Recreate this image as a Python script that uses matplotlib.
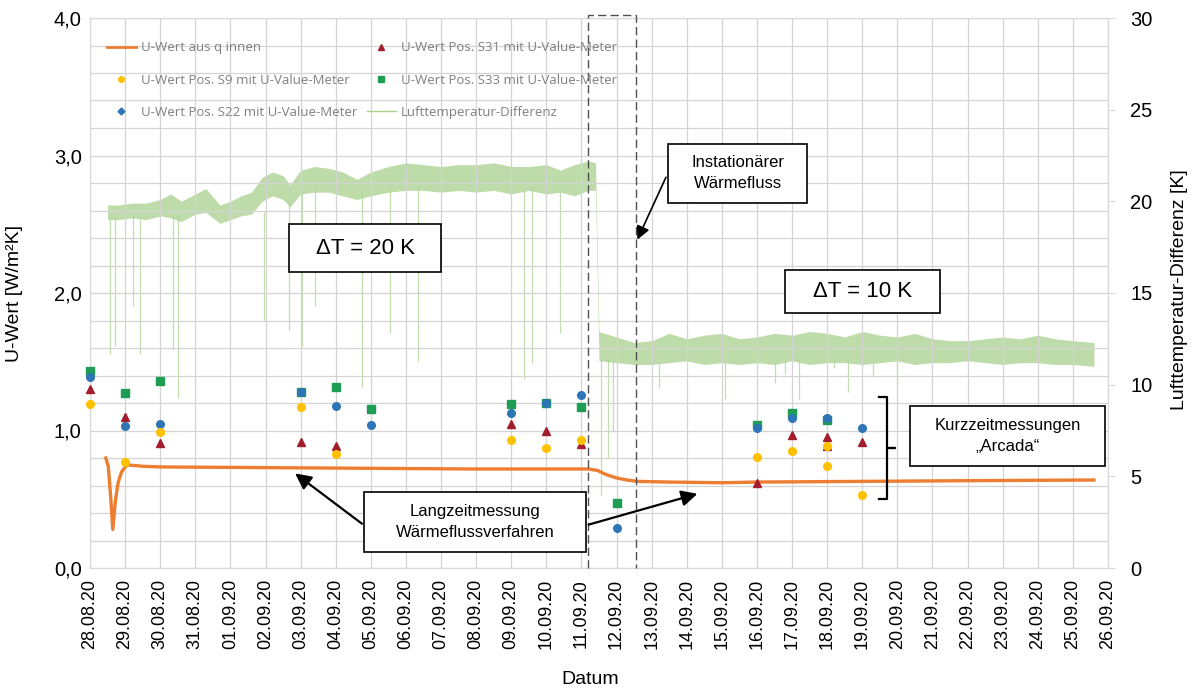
import matplotlib.pyplot as plt
from matplotlib.lines import Line2D
from matplotlib.patches import Rectangle
import numpy as np

plt.rcParams['font.family'] = ['Liberation Sans', 'DejaVu Sans']

# x axis: days since 28.08.20
dateLabels = ['28.08.20', '29.08.20', '30.08.20', '31.08.20', '01.09.20', '02.09.20',
              '03.09.20', '04.09.20', '05.09.20', '06.09.20', '07.09.20', '08.09.20',
              '09.09.20', '10.09.20', '11.09.20', '12.09.20', '13.09.20', '14.09.20',
              '15.09.20', '16.09.20', '17.09.20', '18.09.20', '19.09.20', '20.09.20',
              '21.09.20', '22.09.20', '23.09.20', '24.09.20', '25.09.20', '26.09.20']

# U-Wert aus q innen (long-term heat flux measurement)
qDays = [0.45, 0.52, 0.58, 0.65, 0.72, 0.8, 0.9, 1.05, 1.5, 2.0, 5.0, 8.0, 11.0, 14.2,
         14.45, 14.7, 15.0, 15.3, 15.6, 16.5, 18.0, 19.0, 22.0, 25.0, 28.6]
qValues = [0.80, 0.74, 0.55, 0.28, 0.48, 0.62, 0.70, 0.75, 0.74, 0.735, 0.73, 0.725, 0.72, 0.72,
           0.71, 0.68, 0.655, 0.64, 0.63, 0.625, 0.62, 0.625, 0.63, 0.635, 0.64]

# short-term measurements with U-Value-Meter
s9Days = [0, 1, 2, 6, 7, 12, 13, 14, 19, 20, 21, 21, 22]
s9Values = [1.19, 0.77, 0.99, 1.17, 0.83, 0.93, 0.87, 0.93, 0.81, 0.85, 0.89, 0.74, 0.53]
s22Days = [0, 1, 2, 6, 7, 8, 12, 13, 14, 15, 19, 20, 21, 22]
s22Values = [1.39, 1.03, 1.05, 1.28, 1.18, 1.04, 1.13, 1.20, 1.26, 0.29, 1.02, 1.09, 1.09, 1.02]
s31Days = [0, 1, 2, 6, 7, 12, 13, 14, 19, 20, 21, 21, 22]
s31Values = [1.30, 1.10, 0.91, 0.92, 0.89, 1.05, 1.00, 0.90, 0.62, 0.97, 0.95, 0.89, 0.92]
s33Days = [0, 1, 2, 6, 7, 8, 12, 13, 14, 15, 19, 20, 21]
s33Values = [1.43, 1.27, 1.36, 1.28, 1.32, 1.16, 1.19, 1.20, 1.17, 0.47, 1.04, 1.13, 1.08]

# Lufttemperatur-Differenz, noisy band (low / high edge)
tDays = [0.5, 0.8, 1.2, 1.6, 2.0, 2.3, 2.6, 3.0, 3.3, 3.7, 4.0, 4.3, 4.6, 4.9, 5.2, 5.5,
         5.7, 6.0, 6.4, 6.8, 7.2, 7.6, 8.0, 8.5, 9.0, 9.5, 10.0, 10.5, 11.0, 11.5, 12.0,
         12.5, 13.0, 13.4, 13.8, 14.2, 14.4,
         14.5, 15.0, 15.5, 16.0, 16.5, 17.0, 17.5, 18.0, 18.5, 19.0, 19.5, 20.0, 20.5,
         21.0, 21.5, 22.0, 22.5, 23.0, 23.5, 24.0, 24.5, 25.0, 25.5, 26.0, 26.5, 27.0,
         27.5, 28.0, 28.6]
tLow = [19.0, 19.0, 19.1, 19.0, 19.2, 19.1, 18.9, 19.3, 19.4, 18.8, 19.0, 19.2, 19.3, 20.0,
        20.3, 20.1, 19.7, 20.4, 20.5, 20.5, 20.3, 20.1, 20.3, 20.5, 20.6, 20.6, 20.5, 20.6,
        20.5, 20.6, 20.4, 20.6, 20.4, 20.5, 20.3, 20.6, 20.6,
        11.3, 11.2, 11.1, 11.1, 11.2, 11.3, 11.1, 11.2, 11.1, 11.2, 11.1, 11.3, 11.1, 11.2,
        11.2, 11.1, 11.2, 11.3, 11.1, 11.2, 11.2, 11.3, 11.2, 11.1, 11.2, 11.2, 11.1, 11.1,
        11.0]
tHigh = [19.8, 19.8, 19.9, 19.9, 20.1, 20.4, 20.0, 20.4, 20.7, 19.8, 20.0, 20.3, 20.5, 21.3,
         21.6, 21.4, 20.9, 21.7, 21.9, 21.8, 21.6, 21.2, 21.6, 21.9, 22.1, 22.0, 21.9, 22.0,
         22.0, 22.1, 21.9, 21.9, 22.0, 21.7, 22.0, 22.2, 22.1,
         12.9, 12.6, 12.3, 12.4, 12.8, 12.5, 12.7, 12.8, 12.5, 12.6, 12.8, 12.7, 12.9, 12.8,
         12.6, 12.9, 12.7, 12.6, 12.8, 12.5, 12.4, 12.4, 12.5, 12.6, 12.5, 12.7, 12.5, 12.4,
         12.3]
# short drops of the temperature difference
dipDays = [0.57, 0.71, 1.23, 1.42, 2.36, 2.5, 4.96, 5.67, 6.04, 6.42, 7.74, 8.55, 9.35,
           12.37, 12.6, 13.4, 14.55, 14.75, 14.9, 16.2, 18.1, 19.5, 19.8, 20.2, 21.2, 21.6,
           22.3, 23.0]
dipBottom = [11.7, 12.1, 14.3, 11.7, 11.9, 9.3, 13.5, 13.0, 12.1, 14.3, 9.9, 12.8, 11.3,
             10.3, 11.2, 12.8, 4.0, 6.0, 7.4, 9.8, 9.2, 10.1, 10.6, 9.2, 10.9, 9.6, 10.4, 9.9]
dipTop = [19.1, 19.1, 19.2, 19.1, 19.3, 19.3, 19.4, 19.9, 20.6, 20.8, 20.5, 20.8, 20.9,
          20.7, 20.8, 20.7, 11.4, 11.4, 11.3, 11.2, 11.3, 11.2, 11.3, 11.4, 11.3, 11.3,
          11.2, 11.4]

orange = '#ED7D31'
yellow = '#FFC000'
blue = '#2E75B6'
red = '#A31D2E'
green = '#1F9D55'
tempGreen = '#A9D18E'

fig = plt.figure(figsize=(11.93, 6.97), dpi=100)
ax = fig.add_axes([90 / 1193, 129 / 697, 1018 / 1193, 550 / 697])
ax2 = ax.twinx()
ax.set_zorder(ax2.get_zorder() + 1)
ax.patch.set_visible(False)

# temperature difference on the right axis
ax2.fill_between(tDays, tLow, tHigh, color=tempGreen, alpha=0.75, lw=0)
ax2.vlines(dipDays, dipBottom, dipTop, color=tempGreen, lw=0.9, alpha=0.7)
ax2.set_ylim(0, 30)
ax2.set_yticks(np.arange(0, 31, 5))
ax2.tick_params(axis='y', labelsize=14.5, length=5, color='#d9d9d9', pad=11)

# U-values on the left axis
ax.plot(qDays, qValues, color=orange, lw=2.4, zorder=3)
ax.plot(s33Days, s33Values, 's', color=green, ms=5.5, zorder=4, clip_on=False)
ax.plot(s22Days, s22Values, 'o', color=blue, ms=5.5, zorder=4, clip_on=False)
ax.plot(s31Days, s31Values, '^', color=red, ms=6, zorder=4, clip_on=False)
ax.plot(s9Days, s9Values, 'o', color=yellow, ms=5.5, zorder=4, clip_on=False)

ax.set_xlim(0, 29)
ax.set_ylim(0, 4)
ax.set_xticks(np.arange(len(dateLabels)))
ax.set_xticklabels(dateLabels, rotation=90, fontsize=13)
ax.set_yticks([0, 1, 2, 3, 4])
ax.set_yticklabels(['0,0', '1,0', '2,0', '3,0', '4,0'], fontsize=14.5)
ax.set_yticks(np.arange(0, 4.01, 0.2), minor=True)
ax.tick_params(axis='both', which='both', length=0)
ax.tick_params(axis='y', pad=6)
ax.tick_params(axis='x', pad=8)
ax.grid(True, which='both', color='#d4d4d4', lw=0.9)
ax.set_axisbelow(True)
for sp in list(ax.spines.values()) + list(ax2.spines.values()):
    sp.set_color('#d9d9d9')

fig.text(15 / 1193, 1 - 293 / 697, 'U-Wert [W/m²K]', rotation=90, ha='center', va='center', fontsize=14)
fig.text(1179 / 1193, 1 - 290 / 697, 'Lufttemperatur-Differenz [K]', rotation=90,
         ha='center', va='center', fontsize=14)
fig.text(590 / 1193, 1 - 680 / 697, 'Datum', ha='center', va='center', fontsize=14)

# unstable heat flow region
ax.plot([14.19, 14.19, 15.56, 15.56], [0, 4.02, 4.02, 0], color='#505050', lw=1,
        ls=(0, (6, 3)), clip_on=False, zorder=5)

# text boxes
boxes = [
    (5.67, 2.153, 4.33, 0.347, 'ΔT = 20 K', 16),
    (19.8, 1.855, 4.42, 0.312, 'ΔT = 10 K', 16),
    (16.47, 2.655, 3.96, 0.429, 'Instationärer\nWärmefluss', 12),
    (7.81, 0.116, 6.32, 0.437, 'Langzeitmessung\nWärmeflussverfahren', 12),
    (23.36, 0.742, 5.56, 0.436, 'Kurzzeitmessungen\n\u201eArcada\u201c', 12),
]
for x0, y0, w, h, txt, fs in boxes:
    ax.add_patch(Rectangle((x0, y0), w, h, facecolor='white', edgecolor='black',
                           lw=1.2, zorder=6))
    ax.text(x0 + w / 2, y0 + h / 2, txt, ha='center', va='center', fontsize=fs,
            linespacing=1.5, zorder=7)

arrow = dict(arrowstyle='-|>', color='black', lw=1.6, mutation_scale=24)
ax.annotate('', xy=(15.56, 2.37), xytext=(16.44, 2.86),
            arrowprops=dict(arrowstyle='-|>', color='black', lw=1.2, mutation_scale=20), zorder=7)
ax.annotate('', xy=(5.78, 0.70), xytext=(7.81, 0.31), arrowprops=arrow, zorder=7)
ax.annotate('', xy=(17.38, 0.545), xytext=(14.13, 0.31), arrowprops=arrow, zorder=7)

# curly bracket for short-term measurements
ax.plot([22.48, 22.71, 22.71, 22.93, 22.71, 22.71, 22.48],
        [1.244, 1.244, 0.873, 0.873, 0.873, 0.502, 0.502], color='black', lw=1.6, zorder=7)

# legend
handles = [
    Line2D([], [], color=orange, lw=2),
    Line2D([], [], ls='', marker='o', color=yellow, ms=4),
    Line2D([], [], ls='', marker='D', color=blue, ms=3.5),
    Line2D([], [], ls='', marker='^', color=red, ms=5),
    Line2D([], [], ls='', marker='s', color=green, ms=4),
    Line2D([], [], color=tempGreen, lw=1),
]
labels = ['U-Wert aus q innen', 'U-Wert Pos. S9 mit U-Value-Meter',
          'U-Wert Pos. S22 mit U-Value-Meter', 'U-Wert Pos. S31 mit U-Value-Meter',
          'U-Wert Pos. S33 mit U-Value-Meter', 'Lufttemperatur-Differenz']
leg = ax.legend(handles, labels, ncol=2, loc='upper left', bbox_to_anchor=(0.005, 0.979),
                frameon=False, prop={'family': 'Open Sans', 'size': 9.5},
                labelspacing=1.45, columnspacing=0.7, handlelength=2.2, handletextpad=0.4)
for t in leg.get_texts():
    t.set_color('#808080')

fig.savefig('out.png', dpi=100)
